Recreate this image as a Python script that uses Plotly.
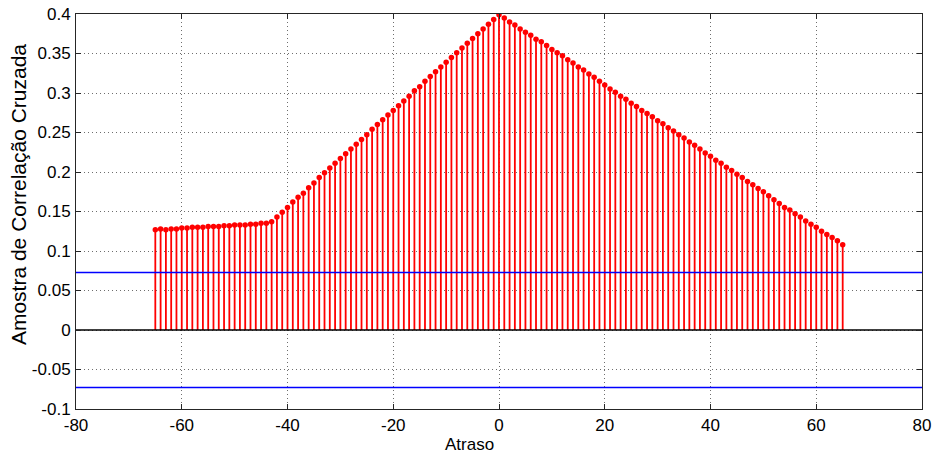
import plotly.graph_objects as go

# Lags and sample cross-correlation values
lags = list(range(-65, 66))
xcorr = [
    0.127, 0.128, 0.127, 0.128, 0.128, 0.129, 0.129, 0.130, 0.130, 0.130,   # -65..-56
    0.131, 0.131, 0.131, 0.132, 0.132, 0.133, 0.133, 0.133, 0.134, 0.134,   # -55..-46
    0.135, 0.135, 0.137, 0.143, 0.149, 0.155, 0.162, 0.168, 0.173, 0.180,   # -45..-36
    0.186, 0.193, 0.199, 0.205, 0.211, 0.217, 0.223, 0.229, 0.235, 0.241,   # -35..-26
    0.247, 0.254, 0.260, 0.266, 0.272, 0.278, 0.284, 0.290, 0.296, 0.303,   # -25..-16
    0.308, 0.315, 0.321, 0.327, 0.333, 0.339, 0.345, 0.351, 0.357, 0.363,   # -15..-6
    0.369, 0.375, 0.381, 0.387, 0.393, 0.399,                               # -5..0
    0.395, 0.390, 0.386, 0.381, 0.377, 0.373, 0.368, 0.365, 0.360, 0.355,   # 1..10
    0.351, 0.347, 0.342, 0.338, 0.333, 0.329, 0.324, 0.320, 0.315, 0.310,   # 11..20
    0.305, 0.301, 0.296, 0.292, 0.287, 0.283, 0.278, 0.274, 0.270, 0.265,   # 21..30
    0.261, 0.256, 0.252, 0.247, 0.243, 0.238, 0.234, 0.229, 0.224, 0.220,   # 31..40
    0.215, 0.211, 0.206, 0.202, 0.197, 0.193, 0.188, 0.184, 0.179, 0.175,   # 41..50
    0.170, 0.165, 0.160, 0.155, 0.152, 0.147, 0.143, 0.138, 0.134, 0.130,   # 51..60
    0.125, 0.121, 0.117, 0.113, 0.108,                                      # 61..65
]
bound = 0.0727  # approximate confidence bound
x_range = [-80, 80]
y_range = [-0.1, 0.4]
x_ticks = [-80, -60, -40, -20, 0, 20, 40, 60, 80]
y_ticks = [-0.1, -0.05, 0, 0.05, 0.1, 0.15, 0.2, 0.25, 0.3, 0.35, 0.4]
y_tick_text = ["-0.1", "-0.05", "0", "0.05", "0.1", "0.15", "0.2", "0.25", "0.3", "0.35", "0.4"]
x_tick_text = ["-80", "-60", "-40", "-20", "0", "20", "40", "60", "80"]

font_family = "Liberation Sans, Arial, sans-serif"

# Stem lines: one segment per lag, separated by None
stem_x, stem_y = [], []
for lag, v in zip(lags, xcorr):
    stem_x += [lag, lag, None]
    stem_y += [0, v, None]

fig = go.Figure()
fig.add_trace(go.Scatter(x=stem_x, y=stem_y, mode="lines",
                         line=dict(color="#ff0000", width=1.8),
                         hoverinfo="skip", showlegend=False))
fig.add_trace(go.Scatter(x=lags, y=xcorr, mode="markers",
                         marker=dict(color="#ff0000", size=5.5),
                         showlegend=False))
# Zero baseline
fig.add_trace(go.Scatter(x=x_range, y=[0, 0], mode="lines",
                         line=dict(color="#000000", width=1.5),
                         showlegend=False))
# Confidence bounds
for b in (bound, -bound):
    fig.add_trace(go.Scatter(x=x_range, y=[b, b], mode="lines",
                             line=dict(color="#0000ff", width=1.5),
                             showlegend=False))

axis_common = dict(
    showline=True, linecolor="#262626", linewidth=1, mirror="ticks",
    ticks="inside", ticklen=5, tickcolor="#262626",
    showgrid=True, gridcolor="#6e6e6e", griddash="1px,3px", gridwidth=1,
    zeroline=False, automargin=False,
    tickfont=dict(family=font_family, size=17, color="#000000"),
)

fig.update_layout(
    width=935, height=460,
    margin=dict(l=76, r=13, t=14, b=51),
    paper_bgcolor="#ffffff", plot_bgcolor="#ffffff",
    font=dict(family=font_family, size=17, color="#000000"),
    xaxis=dict(range=x_range, tickvals=x_ticks, ticktext=x_tick_text, ticklabelstandoff=1,
               **axis_common),
    yaxis=dict(range=y_range, tickvals=y_ticks, ticktext=y_tick_text, ticklabelstandoff=1,
               **axis_common),
    annotations=[
        dict(text="Amostra de Correlação Cruzada", textangle=-90,
             xref="paper", yref="paper", x=-0.0686, y=0.544,
             xanchor="center", yanchor="middle", showarrow=False,
             font=dict(family=font_family, size=21, color="#000000")),
        dict(text="Atraso",
             xref="paper", yref="paper", x=0.4657, y=-0.0911,
             xanchor="center", yanchor="middle", showarrow=False,
             font=dict(family=font_family, size=17, color="#000000")),
    ],
)

fig.write_html("out.html")
